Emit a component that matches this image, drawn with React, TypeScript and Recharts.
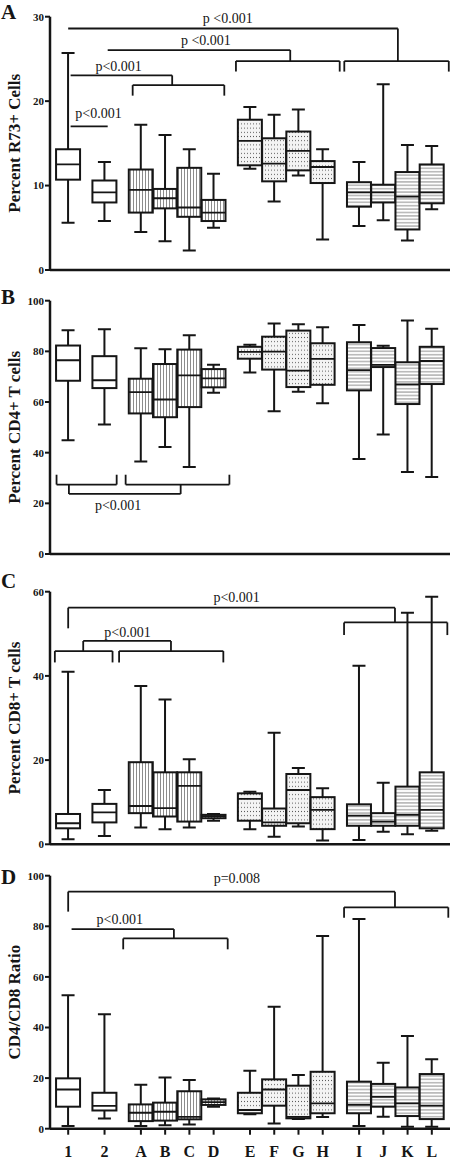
import React from 'react';
import { ComposedChart, Bar, XAxis, YAxis, ReferenceLine, ReferenceDot } from 'recharts';

const SERIF = '"Liberation Serif", "Times New Roman", "DejaVu Serif", serif';
const INK = '#151515';

// Category labels and their positions along the x axis
const CATEGORIES = ['1', '2', 'A', 'B', 'C', 'D', 'E', 'F', 'G', 'H', 'I', 'J', 'K', 'L'];
const POSITIONS = [0, 1.5, 3, 4, 5, 6, 7.5, 8.5, 9.5, 10.5, 12, 13, 14, 15];
const GROUPS = ['plain', 'plain', 'vert', 'vert', 'vert', 'vert', 'dots', 'dots', 'dots', 'dots', 'horiz', 'horiz', 'horiz', 'horiz'];

// Box statistics: [min, q1, median, q3, max]
const R73_STATS = [
  [5.6, 10.7, 12.5, 14.3, 25.7],
  [5.8, 8.0, 9.2, 10.6, 12.8],
  [4.5, 6.8, 9.5, 11.9, 17.2],
  [3.4, 7.3, 8.5, 9.6, 16.0],
  [2.3, 6.3, 7.4, 12.1, 14.3],
  [5.0, 5.8, 6.8, 8.3, 11.4],
  [12.0, 12.4, 15.3, 17.8, 19.3],
  [8.1, 10.5, 12.6, 15.6, 18.4],
  [11.2, 11.8, 14.1, 16.4, 19.0],
  [3.6, 10.3, 12.2, 12.9, 14.3],
  [5.2, 7.5, 9.2, 10.4, 12.8],
  [5.9, 8.0, 9.2, 10.1, 22.0],
  [3.5, 4.8, 8.7, 11.6, 14.8],
  [7.2, 7.9, 9.2, 12.5, 14.7],
];

const CD4_STATS = [
  [44.9, 68.4, 76.5, 82.3, 88.3],
  [51.1, 65.5, 68.6, 78.1, 88.7],
  [36.5, 55.5, 63.9, 69.2, 81.2],
  [42.2, 54.0, 61.0, 75.0, 80.8],
  [34.3, 58.0, 70.5, 80.7, 86.4],
  [63.7, 65.8, 69.3, 73.0, 74.7],
  [71.7, 77.1, 79.8, 81.8, 82.6],
  [56.4, 72.8, 79.9, 85.8, 91.0],
  [64.1, 65.9, 72.4, 88.2, 90.7],
  [59.5, 66.8, 77.0, 83.2, 89.5],
  [37.5, 64.6, 72.6, 83.6, 90.4],
  [47.2, 73.8, 74.7, 81.3, 82.2],
  [32.4, 59.2, 67.0, 75.7, 92.2],
  [30.4, 67.1, 76.2, 81.8, 88.9],
];

const CD8_STATS = [
  [1.2, 3.8, 5.0, 7.2, 41.0],
  [2.0, 5.2, 7.6, 9.6, 12.9],
  [4.0, 7.4, 9.1, 19.5, 37.6],
  [3.6, 6.6, 8.6, 17.1, 34.4],
  [4.0, 5.4, 13.9, 17.1, 20.2],
  [5.6, 6.2, 6.7, 7.0, 7.2],
  [3.6, 5.6, 10.8, 12.1, 12.5],
  [1.8, 4.4, 5.2, 8.5, 26.5],
  [4.2, 5.0, 12.9, 16.7, 18.1],
  [0.9, 3.6, 8.2, 11.2, 13.3],
  [1.0, 4.4, 6.8, 9.5, 42.4],
  [3.0, 4.4, 5.4, 7.4, 14.6],
  [2.4, 4.4, 7.0, 13.7, 55.0],
  [3.2, 3.8, 8.2, 17.1, 58.8],
];

const RATIO_STATS = [
  [1.1, 8.7, 15.5, 19.9, 52.7],
  [4.0, 7.2, 9.0, 14.2, 45.2],
  [1.1, 3.0, 6.3, 9.6, 17.4],
  [1.4, 3.2, 6.7, 10.3, 20.2],
  [1.7, 3.7, 4.7, 14.8, 19.2],
  [8.7, 9.4, 10.5, 11.6, 11.9],
  [5.7, 6.1, 7.4, 14.2, 22.9],
  [2.1, 9.1, 15.5, 19.5, 48.2],
  [3.8, 4.1, 4.7, 17.0, 21.2],
  [4.6, 6.1, 10.0, 22.5, 76.2],
  [1.1, 6.1, 9.4, 18.6, 82.9],
  [4.7, 8.7, 12.6, 17.7, 26.1],
  [0.8, 5.0, 10.0, 16.3, 36.6],
  [0.8, 3.8, 9.1, 21.6, 27.5],
];

// Significance brackets: segments [x1, y1, x2, y2] in data units
const R73_BRACKETS = [
  [0.1, 17.0, 1.63, 17.0],
  [0.1, 23.05, 4.29, 23.05], [4.29, 23.05, 4.29, 21.9], [2.66, 21.9, 6.44, 21.9], [2.66, 21.9, 2.66, 20.65], [6.44, 21.9, 6.44, 20.65],
  [1.63, 26.05, 9.16, 26.05], [9.16, 26.05, 9.16, 24.75], [6.92, 24.75, 11.2, 24.75], [6.92, 24.75, 6.92, 23.5], [11.2, 24.75, 11.2, 23.5],
  [0, 28.6, 13.6, 28.6], [13.6, 28.6, 13.6, 24.75], [11.39, 24.75, 15.7, 24.75], [11.39, 24.75, 11.39, 23.5], [15.7, 24.75, 15.7, 23.5],
];
const CD4_BRACKETS = [
  [-0.48, 27.4, 2.0, 27.4], [-0.48, 27.4, -0.48, 31.3], [2.0, 27.4, 2.0, 31.3],
  [2.37, 27.4, 6.65, 27.4], [2.37, 27.4, 2.37, 31.3], [6.65, 27.4, 6.65, 31.3],
  [0.03, 27.4, 0.03, 23.7], [0.03, 23.7, 4.64, 23.7], [4.64, 23.7, 4.64, 27.4],
];
const CD8_BRACKETS = [
  [0, 56.2, 13.48, 56.2], [0, 56.2, 0, 51.3], [13.48, 56.2, 13.48, 52.7], [11.38, 52.7, 15.64, 52.7], [11.38, 52.7, 11.38, 49.7], [15.64, 52.7, 15.64, 49.7],
  [0.62, 48.3, 4.24, 48.3], [0.62, 48.3, 0.62, 45.9], [4.24, 48.3, 4.24, 45.9],
  [-0.55, 45.9, 1.83, 45.9], [-0.55, 45.9, -0.55, 43.2], [1.83, 45.9, 1.83, 43.2],
  [2.1, 45.9, 6.4, 45.9], [2.1, 45.9, 2.1, 43.2], [6.4, 45.9, 6.4, 43.2],
];
const RATIO_BRACKETS = [
  [0, 93.7, 13.48, 93.7], [0, 93.7, 0, 85.8], [13.48, 93.7, 13.48, 87.5], [11.38, 87.5, 15.68, 87.5], [11.38, 87.5, 11.38, 83.4], [15.68, 87.5, 15.68, 83.4],
  [0.14, 78.9, 4.36, 78.9], [4.36, 78.9, 4.36, 75.2], [2.27, 75.2, 6.58, 75.2], [2.27, 75.2, 2.27, 70.9], [6.58, 75.2, 6.58, 70.9],
];

// P-value labels: [text, x, y]
const R73_PTEXT = [
  ['p<0.001', 1.25, 18.0],
  ['p<0.001', 2.08, 23.6],
  ['p <0.001', 5.68, 26.6],
  ['p <0.001', 6.58, 29.2],
];
const CD4_PTEXT = [['p<0.001', 2.06, 17.4]];
const CD8_PTEXT = [
  ['p<0.001', 6.95, 57.6],
  ['p<0.001', 2.45, 49.2],
];
const RATIO_PTEXT = [
  ['p=0.008', 6.96, 97.0],
  ['p<0.001', 2.13, 80.9],
];

const R73_TICKS = [0, 10, 20, 30];
const CD4_TICKS = [0, 20, 40, 60, 80, 100];
const CD8_TICKS = [0, 20, 40, 60];
const RATIO_TICKS = [0, 20, 40, 60, 80, 100];

function makeRows(stats: number[][]) {
  return POSITIONS.map((pos, i) => ({
    pos,
    cat: CATEGORIES[i],
    group: GROUPS[i],
    range: [stats[i][0], stats[i][4]],
    stats: stats[i],
  }));
}

function makeBoxShape(prefix: string) {
  return (props: any) => {
    const { x, y, width, height, payload } = props;
    if (x == null || y == null || !payload) return <g />;
    const [mn, q1, md, q3, mx] = payload.stats as number[];
    const top = Math.min(y, y + height);
    const bot = Math.max(y, y + height);
    const span = bot - top;
    const py = (v: number) => bot - ((v - mn) / (mx - mn)) * span;
    const cx = x + width / 2;
    const hw = width / 2;
    const cap = 6.5;
    const fill = payload.group === 'plain' ? '#fff' : `url(#${prefix}-${payload.group})`;
    const yq3 = py(q3);
    const yq1 = py(q1);
    return (
      <g>
        <line x1={cx} x2={cx} y1={py(mx)} y2={py(mn)} stroke={INK} strokeWidth={2} />
        <line x1={cx - cap} x2={cx + cap} y1={py(mx)} y2={py(mx)} stroke={INK} strokeWidth={2} />
        <line x1={cx - cap} x2={cx + cap} y1={py(mn)} y2={py(mn)} stroke={INK} strokeWidth={2} />
        <rect x={cx - hw} y={yq3} width={hw * 2} height={yq1 - yq3} fill="#fff" />
        <rect x={cx - hw} y={yq3} width={hw * 2} height={yq1 - yq3} fill={fill} stroke={INK} strokeWidth={2} />
        <line x1={cx - hw} x2={cx + hw} y1={py(md)} y2={py(md)} stroke={INK} strokeWidth={1.8} />
      </g>
    );
  };
}

function Patterns({ prefix }: { prefix: string }) {
  return (
    <defs>
      <pattern id={`${prefix}-vert`} width={3} height={10} patternUnits="userSpaceOnUse">
        <rect width={3} height={10} fill="#fff" />
        <line x1={1.5} x2={1.5} y1={0} y2={10} stroke="#8c8c8c" strokeWidth={1} />
      </pattern>
      <pattern id={`${prefix}-horiz`} width={10} height={3.4} patternUnits="userSpaceOnUse">
        <rect width={10} height={3.4} fill="#fff" />
        <line x1={0} x2={10} y1={1.7} y2={1.7} stroke="#8c8c8c" strokeWidth={1} />
      </pattern>
      <pattern id={`${prefix}-dots`} width={3} height={4.2} patternUnits="userSpaceOnUse">
        <rect width={3} height={4.2} fill="#f4f4f4" />
        <rect x={1} y={1.6} width={1} height={1} fill="#5a5a5a" />
      </pattern>
    </defs>
  );
}

const XTick = (props: any) => {
  const { x, y, payload } = props;
  const idx = POSITIONS.indexOf(payload.value);
  return (
    <text x={x} y={y + 22} textAnchor="middle" fontFamily={SERIF} fontWeight={700} fontSize={16} fill={INK}>
      {idx >= 0 ? CATEGORIES[idx] : ''}
    </text>
  );
};

type PanelProps = {
  id: string;
  top: number;
  height: number;
  marginTop: number;
  marginBottom: number;
  xAxisHeight: number;
  yMax: number;
  yTicks: number[];
  stats: number[][];
  brackets: number[][];
  ptext: (string | number)[][];
  letter: string;
  letterY: number;
  yLabel: string;
  showXLabels: boolean;
};

function Panel(p: PanelProps) {
  const rows = makeRows(p.stats);
  const plotTop = p.marginTop;
  const plotBottom = p.height - p.marginBottom - p.xAxisHeight;
  const mid = (plotTop + plotBottom) / 2;
  return (
    <div style={{ position: 'absolute', left: 0, top: p.top }}>
      <ComposedChart
        width={452}
        height={p.height}
        data={rows}
        margin={{ top: p.marginTop, right: 2, bottom: p.marginBottom, left: 0 }}
        barCategoryGap={0}
        barGap={0}
        style={{ overflow: 'visible' }}
      >
        <Patterns prefix={p.id} />
        <XAxis
          dataKey="pos"
          type="number"
          domain={[-0.75, 15.75]}
          ticks={POSITIONS}
          allowDataOverflow
          height={p.xAxisHeight}
          tickSize={6}
          tickMargin={0}
          axisLine={{ stroke: INK, strokeWidth: 2.5 }}
          tickLine={{ stroke: INK, strokeWidth: 2 }}
          tick={p.showXLabels ? <XTick /> : false}
          tickFormatter={() => ''}
        />
        <YAxis
          type="number"
          domain={[0, p.yMax]}
          ticks={p.yTicks}
          allowDataOverflow
          width={50}
          tickSize={5}
          tickMargin={1}
          axisLine={{ stroke: INK, strokeWidth: 2.5 }}
          tickLine={{ stroke: INK, strokeWidth: 2 }}
          tick={{ fill: INK, fontSize: 11, fontWeight: 700, fontFamily: SERIF }}
        />
        <Bar dataKey="range" isAnimationActive={false} shape={makeBoxShape(p.id)} />
        {p.brackets.map((s, i) => (
          <ReferenceLine
            key={`b${i}`}
            segment={[{ x: s[0], y: s[1] }, { x: s[2], y: s[3] }]}
            stroke={INK}
            strokeWidth={1.8}
            ifOverflow="visible"
          />
        ))}
        {p.ptext.map((t, i) => (
          <ReferenceDot
            key={`t${i}`}
            x={t[1] as number}
            y={t[2] as number}
            r={0}
            ifOverflow="visible"
            shape={(sp: any) => (
              <text x={sp.cx} y={sp.cy} textAnchor="middle" fontFamily={SERIF} fontSize={14} fill={INK}>
                {t[0] as string}
              </text>
            )}
          />
        ))}
        <text x={1} y={p.letterY} fontFamily={SERIF} fontWeight={700} fontSize={21} fill={INK}>
          {p.letter}
        </text>
        <text
          x={20}
          y={mid}
          transform={`rotate(-90, 20, ${mid})`}
          textAnchor="middle"
          fontFamily={SERIF}
          fontWeight={700}
          fontSize={17}
          fill={INK}
        >
          {p.yLabel}
        </text>
      </ComposedChart>
    </div>
  );
}

export default function App() {
  return (
    <div style={{ position: 'absolute', left: 0, top: 0, width: 452, height: 1162, background: '#fff', overflow: 'hidden' }}>
      <Panel
        id="pa" top={0} height={285} marginTop={16.7} marginBottom={5} xAxisHeight={10}
        yMax={30} yTicks={R73_TICKS} stats={R73_STATS} brackets={R73_BRACKETS} ptext={R73_PTEXT}
        letter="A" letterY={19} yLabel="Percent R73+ Cells" showXLabels={false}
      />
      <Panel
        id="pb" top={285} height={285} marginTop={15.7} marginBottom={6} xAxisHeight={10}
        yMax={100} yTicks={CD4_TICKS} stats={CD4_STATS} brackets={CD4_BRACKETS} ptext={CD4_PTEXT}
        letter="B" letterY={19} yLabel="Percent CD4+ T cells" showXLabels={false}
      />
      <Panel
        id="pc" top={570} height={290} marginTop={21.7} marginBottom={5.7} xAxisHeight={10}
        yMax={60} yTicks={CD8_TICKS} stats={CD8_STATS} brackets={CD8_BRACKETS} ptext={CD8_PTEXT}
        letter="C" letterY={18} yLabel="Percent CD8+ T cells" showXLabels={false}
      />
      <Panel
        id="pd" top={860} height={302} marginTop={15.7} marginBottom={0} xAxisHeight={33.3}
        yMax={100} yTicks={RATIO_TICKS} stats={RATIO_STATS} brackets={RATIO_BRACKETS} ptext={RATIO_PTEXT}
        letter="D" letterY={24} yLabel="CD4/CD8 Ratio" showXLabels={true}
      />
    </div>
  );
}
